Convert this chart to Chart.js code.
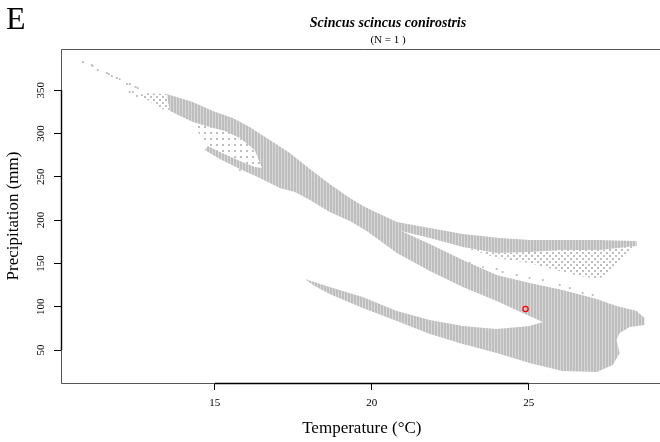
<!DOCTYPE html>
<html>
<head>
<meta charset="utf-8">
<script src="https://cdn.jsdelivr.net/npm/chart.js@4/dist/chart.umd.min.js"></script>
<style>
  html, body { margin: 0; padding: 0; overflow: hidden; background: #fff; }
  #wrap { position: relative; width: 660px; height: 442px; overflow: hidden; }
  canvas { position: absolute; left: 0; top: 0; }
  .txt { position: absolute; font-family: "Liberation Serif", "DejaVu Serif", serif; color: #000; white-space: nowrap; }
  #panel { left: 6px; top: 2px; font-size: 32px; line-height: 32px; }
  #title { left: 0; width: 776px; text-align: center; top: 16px; font-size: 14px; line-height: 14px; font-weight: bold; font-style: italic; }
  #sub { left: 0; width: 776px; text-align: center; top: 34px; font-size: 11px; line-height: 11px; }
</style>
</head>
<body>
<div id="wrap">
  <canvas id="chart" width="668" height="442"></canvas>
  <div class="txt" id="panel">E</div>
  <div class="txt" id="title">Scincus scincus conirostris</div>
  <div class="txt" id="sub">(N = 1 )</div>
</div>
<script>
// Climate space of the species (grey) and its one record (red)

// outline of the dense background cloud (temperature, precipitation)
const mainBandTemp = [13.47, 14.30, 14.94, 15.57, 16.11, 16.75, 17.39, 18.03, 18.66, 19.30, 19.94,
  20.80, 21.85, 22.90, 23.98, 25.03, 26.08, 27.17, 27.80, 28.44, 28.69, 28.69, 28.22, 27.90, 27.80,
  27.90, 27.68, 27.17, 26.08, 25.03, 23.98, 22.90, 21.85, 20.80, 19.71, 18.66, 18.18, 17.87, 18.66,
  19.71, 20.80, 21.85, 22.90, 23.98, 25.03, 25.45, 24.81, 23.98, 22.90, 21.85, 20.80, 19.84, 19.30,
  18.66, 18.03, 17.55, 17.07, 16.43, 15.80, 15.16, 14.68, 14.78, 15.16, 15.80, 16.27, 16.50, 16.27,
  15.80, 15.32, 14.84, 14.30, 13.57];
const mainBandPrecip = [345.6, 336.4, 326.0, 317.9, 307.5, 292.5, 277.5, 259.0, 241.7, 225.5, 211.7,
  189.7, 172.4, 153.9, 136.6, 127.4, 119.3, 108.9, 100.8, 95.0, 87.0, 78.9, 76.6, 69.6, 61.5,
  46.5, 32.7, 24.6, 25.7, 35.0, 46.5, 56.9, 68.5, 83.5, 98.5, 114.7, 123.9, 132.0, 122.7,
  111.2, 95.0, 84.6, 77.7, 74.2, 77.7, 82.3, 92.7, 106.6, 122.7, 141.2, 162.0, 187.4, 199.0,
  209.3, 223.2, 232.4, 237.1, 248.6, 259.0, 270.6, 280.9, 285.6, 278.6, 268.2, 261.3, 260.2, 280.9,
  294.8, 302.9, 307.5, 313.3, 326.0];

// upper branch (dense part)
const topBandTemp = [19.78, 20.80, 21.85, 22.90, 24.08, 25.03, 27.17, 28.44, 28.44, 27.26, 25.99, 25.03,
  23.98, 22.90, 21.85, 20.80, 19.94];
const topBandPrecip = [215.1, 197.8, 190.9, 184.0, 179.3, 177.0, 177.0, 175.9, 170.1, 165.5, 165.5, 163.2,
  162.0, 168.9, 179.3, 188.6, 205.9];

// thinly covered parts
const topSparseTemp = [22.90, 23.98, 25.03, 25.99, 27.26, 28.44, 28.15, 27.74, 27.26, 26.62, 26.08, 25.03, 23.98];
const topSparsePrecip = [168.9, 162.0, 163.2, 165.5, 165.5, 170.1, 159.7, 147.0, 132.0, 135.4, 140.1, 150.5, 156.2];
const gapSparseTemp = [14.30, 14.84, 15.32, 15.80, 16.27, 16.50, 16.27, 15.80, 15.16, 14.78, 14.52];
const gapSparsePrecip = [313.3, 307.5, 302.9, 294.8, 280.9, 260.2, 261.3, 268.2, 278.6, 285.6, 298.3];
const tipSparseTemp = [12.71, 13.47, 13.57, 13.25, 12.71];
const tipSparsePrecip = [346.8, 345.6, 326.0, 329.4, 342.1];

// single grey cells outside the cloud
const strayTemp = [10.80, 11.08, 11.11, 11.27, 11.56, 11.62, 11.72, 11.88, 11.97, 12.20, 12.29, 12.48,
  12.55, 12.29, 12.39, 12.52, 12.68, 15.80,
  23.12, 23.54, 23.98, 24.17, 24.62, 25.03, 25.45, 25.99, 26.31, 26.72, 27.04];
const strayPrecip = [382.6, 379.1, 377.9, 373.3, 369.9, 368.7, 366.4, 364.1, 362.9, 357.2, 357.2, 353.7,
  352.5, 347.9, 347.9, 343.3, 344.4, 257.8,
  150.5, 145.8, 143.5, 140.1, 136.6, 133.1, 130.8, 125.1, 121.6, 115.8, 113.5];

// the species record
const recordTemp = [24.90];
const recordPrecip = [97.3];

const xTicks = [15, 20, 25];
const yTicks = [50, 100, 150, 200, 250, 300, 350];

const canvas = document.getElementById("chart");
const ctx = canvas.getContext("2d");

function makePattern(size, cells, bg) {
    const tile = document.createElement("canvas");
    tile.width = size;
    tile.height = size;
    const g = tile.getContext("2d");
    if (bg) {
        g.fillStyle = bg;
        g.fillRect(0, 0, size, size);
    }
    g.fillStyle = "#bebebe";
    cells.forEach((c) => g.fillRect(c[0], c[1], c[2], c[3]));
    return ctx.createPattern(tile, "repeat");
}

const densePattern = makePattern(3, [[0, 0, 2, 3]], "#d8d8d8");
const sparsePattern = makePattern(6, [[0, 0, 2, 2], [3, 3, 2, 2]], null);
const thinPattern = makePattern(6, [[0, 0, 2, 2]], null);

function toPoints(xs, ys) {
    return xs.map((v, i) => ({ x: v, y: ys[i] }));
}

function area(xs, ys, fillStyle) {
    return {
        data: toPoints(xs, ys),
        showLine: true,
        fill: "shape",
        backgroundColor: fillStyle,
        borderColor: "rgba(0,0,0,0)",
        borderWidth: 0,
        pointRadius: 0,
        tension: 0,
    };
}

// frame (top, left, bottom; the right side lies past the window) and
// darker axis lines between first and last tick
const frame = {
    id: "frame",
    afterDraw(chart) {
        const { ctx, chartArea: a, scales } = chart;
        ctx.save();
        ctx.strokeStyle = "#555";
        ctx.lineWidth = 1;
        ctx.beginPath();
        ctx.moveTo(chart.width, a.top + 0.5);
        ctx.lineTo(a.left + 0.5, a.top + 0.5);
        ctx.lineTo(a.left + 0.5, a.bottom + 0.5);
        ctx.lineTo(chart.width, a.bottom + 0.5);
        ctx.stroke();
        ctx.strokeStyle = "#000";
        ctx.lineWidth = 1.4;
        ctx.beginPath();
        ctx.moveTo(scales.x.getPixelForValue(xTicks[0]), a.bottom + 0.5);
        ctx.lineTo(scales.x.getPixelForValue(xTicks[xTicks.length - 1]), a.bottom + 0.5);
        ctx.moveTo(a.left + 0.5, scales.y.getPixelForValue(yTicks[0]));
        ctx.lineTo(a.left + 0.5, scales.y.getPixelForValue(yTicks[yTicks.length - 1]));
        ctx.stroke();
        ctx.restore();
    },
};

const tickFont = { family: "'Liberation Serif', serif", size: 11 };
const titleFont = { family: "'Liberation Serif', serif", size: 17 };

new Chart(canvas, {
    type: "line",
    data: {
        datasets: [
            {
                data: toPoints(recordTemp, recordPrecip),
                showLine: false,
                pointRadius: 2.6,
                pointBorderWidth: 1.3,
                pointBorderColor: "#ff0000",
                pointBackgroundColor: "rgba(0,0,0,0)",
            },
            {
                data: toPoints(strayTemp, strayPrecip),
                showLine: false,
                pointStyle: "rect",
                pointRadius: 1.3,
                pointBorderWidth: 0,
                pointBackgroundColor: "#bebebe",
            },
            area(topSparseTemp, topSparsePrecip, sparsePattern),
            area(gapSparseTemp, gapSparsePrecip, thinPattern),
            area(tipSparseTemp, tipSparsePrecip, sparsePattern),
            area(topBandTemp, topBandPrecip, densePattern),
            area(mainBandTemp, mainBandPrecip, densePattern),
        ],
    },
    options: {
        responsive: false,
        animation: false,
        events: [],
        layout: { padding: { top: 49, right: 1, left: 0, bottom: 0 } },
        plugins: { legend: { display: false }, tooltip: { enabled: false } },
        scales: {
            x: {
                type: "linear",
                position: "bottom",
                min: 10.1,
                max: 29.27,
                afterBuildTicks: (s) => { s.ticks = xTicks.map((v) => ({ value: v })); },
                afterFit: (s) => { s.height = 59; },
                border: { display: false },
                grid: { drawOnChartArea: false, tickLength: 7, color: "#000", lineWidth: 1 },
                ticks: { font: tickFont, color: "#000", padding: 7, maxRotation: 0 },
                title: { display: true, text: "Temperature (°C)", font: titleFont, color: "#000", padding: { top: 0, bottom: 3 } },
            },
            y: {
                type: "linear",
                min: 11.9,
                max: 397.6,
                afterBuildTicks: (s) => { s.ticks = yTicks.map((v) => ({ value: v })); },
                afterFit: (s) => { s.width = 61; },
                border: { display: false },
                grid: { drawOnChartArea: false, tickLength: 7, color: "#000", lineWidth: 1 },
                ticks: { font: tickFont, color: "#000", padding: 5, minRotation: 90, maxRotation: 90, crossAlign: "center" },
                title: { display: true, text: "Precipitation (mm)", font: titleFont, color: "#000", padding: { top: 3, bottom: 0 } },
            },
        },
    },
    plugins: [frame],
});
</script>
</body>
</html>
